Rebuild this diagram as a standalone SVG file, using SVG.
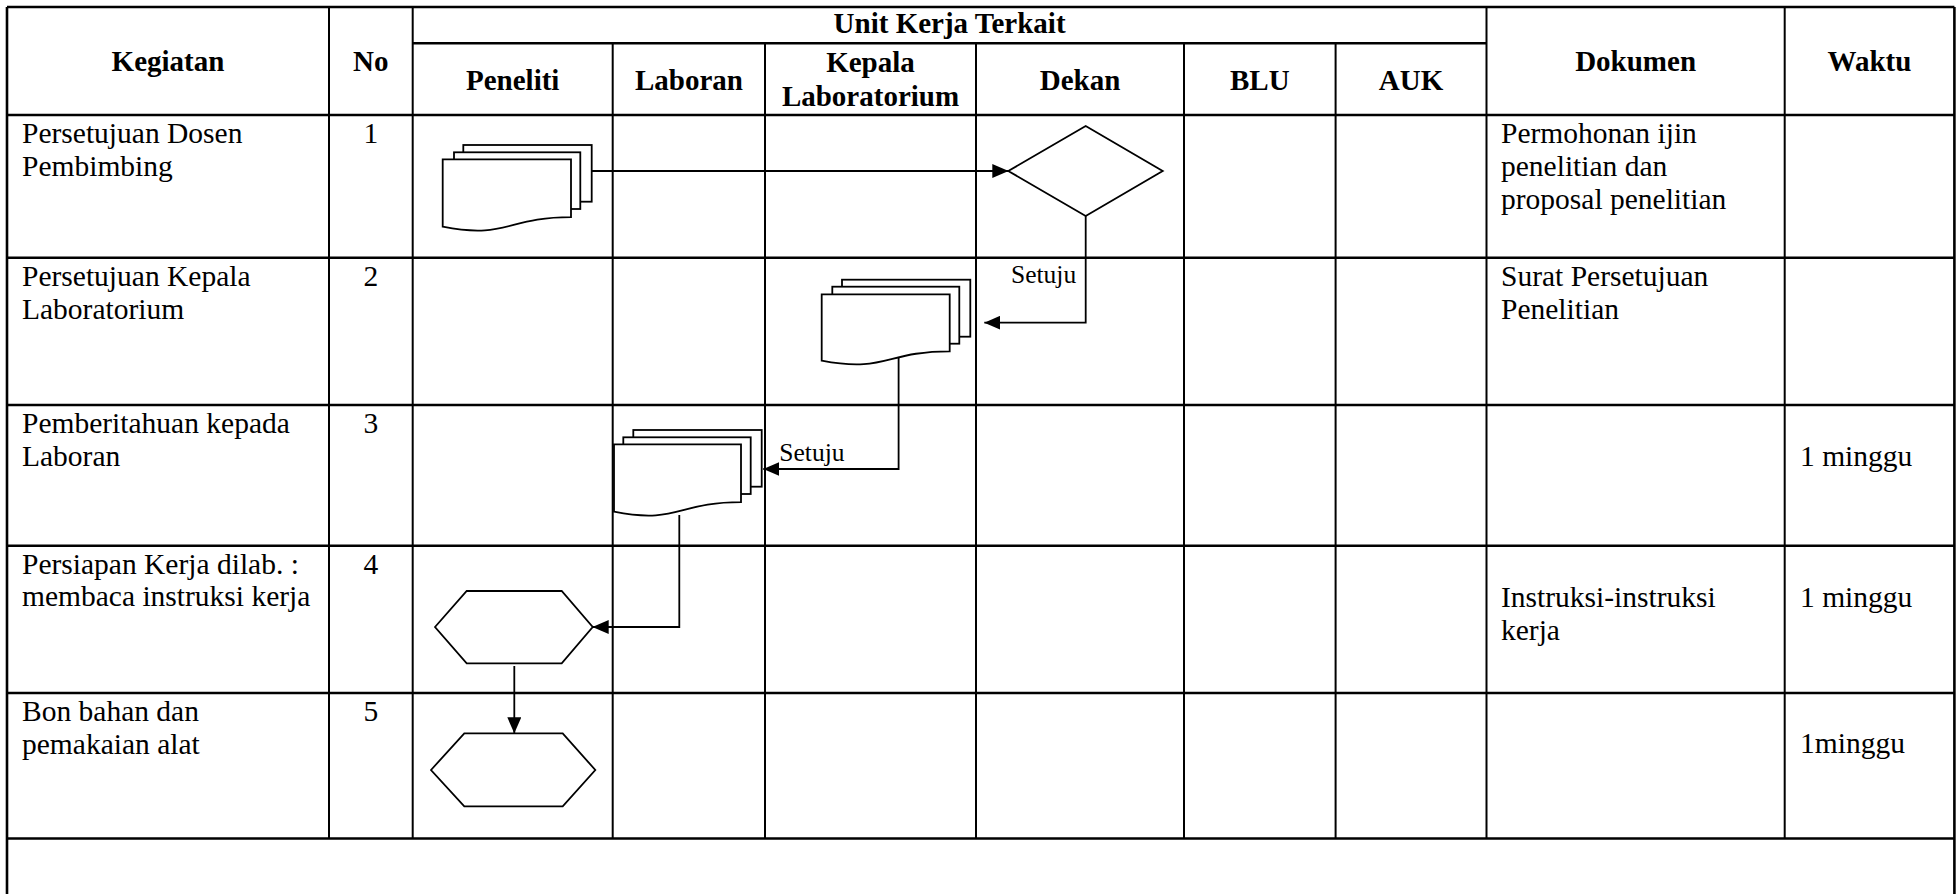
<svg xmlns="http://www.w3.org/2000/svg" width="1957" height="894" viewBox="0 0 1957 894">
  <style>
    .bg { fill: #ffffff; }
    .h { stroke: #000; stroke-width: 2.6; fill: none; }
    .v { stroke: #000; stroke-width: 2; fill: none; }
    .hd { font-family: "Liberation Serif", "Times New Roman", serif; font-size: 29px; font-weight: bold; text-anchor: middle; fill: #000; }
    .tx { font-family: "Liberation Serif", "Times New Roman", serif; font-size: 29.5px; fill: #000; }
    .num { text-anchor: middle; }
    .lbl { font-family: "Liberation Serif", "Times New Roman", serif; font-size: 25.5px; fill: #000; }
    .shape { fill: #fff; stroke: #000; stroke-width: 1.8; }
    .conn { fill: none; stroke: #000; stroke-width: 1.8; }
  </style>
  <defs>
    <marker id="arrow" viewBox="0 0 16 14" refX="16" refY="7" markerWidth="16" markerHeight="14" markerUnits="userSpaceOnUse" orient="auto">
      <path d="M0,0 L16,7 L0,14 Z" fill="#000"/>
    </marker>
  </defs>
  <rect class="bg" x="0" y="0" width="1957" height="894"/>

  <g id="table-grid">
    <line class="h" x1="7" y1="7" x2="1954.4" y2="7"/>
    <line class="h" x1="412.7" y1="43.3" x2="1486.5" y2="43.3"/>
    <line class="h" x1="7" y1="115" x2="1954.4" y2="115"/>
    <line class="h" x1="7" y1="257.7" x2="1954.4" y2="257.7"/>
    <line class="h" x1="7" y1="405" x2="1954.4" y2="405"/>
    <line class="h" x1="7" y1="545.7" x2="1954.4" y2="545.7"/>
    <line class="h" x1="7" y1="693" x2="1954.4" y2="693"/>
    <line class="h" x1="7" y1="838.5" x2="1954.4" y2="838.5"/>
    <line class="h" x1="7" y1="7" x2="7" y2="894"/>
    <line class="h" x1="1954.4" y1="7" x2="1954.4" y2="894"/>
    <line class="v" x1="329" y1="7" x2="329" y2="838.5"/>
    <line class="v" x1="412.7" y1="7" x2="412.7" y2="838.5"/>
    <line class="v" x1="1486.5" y1="7" x2="1486.5" y2="838.5"/>
    <line class="v" x1="1784.7" y1="7" x2="1784.7" y2="838.5"/>
    <line class="v" x1="612.7" y1="43.3" x2="612.7" y2="838.5"/>
    <line class="v" x1="765" y1="43.3" x2="765" y2="838.5"/>
    <line class="v" x1="976" y1="43.3" x2="976" y2="838.5"/>
    <line class="v" x1="1184" y1="43.3" x2="1184" y2="838.5"/>
    <line class="v" x1="1335.6" y1="43.3" x2="1335.6" y2="838.5"/>
  </g>

  <g id="headers">
    <text class="hd" x="168" y="71">Kegiatan</text>
    <text class="hd" x="370.8" y="71">No</text>
    <text class="hd" x="949.6" y="33">Unit Kerja Terkait</text>
    <text class="hd" x="512.7" y="90">Peneliti</text>
    <text class="hd" x="688.9" y="90">Laboran</text>
    <text class="hd" x="870.5" y="72">Kepala</text>
    <text class="hd" x="870.5" y="106">Laboratorium</text>
    <text class="hd" x="1080" y="90">Dekan</text>
    <text class="hd" x="1259.8" y="90">BLU</text>
    <text class="hd" x="1411" y="90">AUK</text>
    <text class="hd" x="1635.6" y="71">Dokumen</text>
    <text class="hd" x="1869.5" y="71">Waktu</text>
  </g>

  <g id="row1-text">
    <text class="tx" x="22" y="143">Persetujuan Dosen</text>
    <text class="tx" x="22" y="175.7">Pembimbing</text>
    <text class="tx num" x="370.8" y="143">1</text>
    <text class="tx" x="1501" y="143.3">Permohonan ijin</text>
    <text class="tx" x="1501" y="176">penelitian dan</text>
    <text class="tx" x="1501" y="208.7">proposal penelitian</text>
  </g>
  <g id="row2-text">
    <text class="tx" x="22" y="286">Persetujuan Kepala</text>
    <text class="tx" x="22" y="318.7">Laboratorium</text>
    <text class="tx num" x="370.8" y="286">2</text>
    <text class="tx" x="1501" y="286">Surat Persetujuan</text>
    <text class="tx" x="1501" y="318.7">Penelitian</text>
  </g>
  <g id="row3-text">
    <text class="tx" x="22" y="433">Pemberitahuan kepada</text>
    <text class="tx" x="22" y="465.7">Laboran</text>
    <text class="tx num" x="370.8" y="433">3</text>
    <text class="tx" x="1800" y="466">1 minggu</text>
  </g>
  <g id="row4-text">
    <text class="tx" x="22" y="573.5">Persiapan Kerja dilab. :</text>
    <text class="tx" x="22" y="606.3">membaca instruksi kerja</text>
    <text class="tx num" x="370.8" y="573.5">4</text>
    <text class="tx" x="1501" y="606.7">Instruksi-instruksi</text>
    <text class="tx" x="1501" y="640">kerja</text>
    <text class="tx" x="1800" y="606.7">1 minggu</text>
  </g>
  <g id="row5-text">
    <text class="tx" x="22" y="721">Bon bahan dan</text>
    <text class="tx" x="22" y="753.7">pemakaian alat</text>
    <text class="tx num" x="370.8" y="721">5</text>
    <text class="tx" x="1800" y="753">1minggu</text>
  </g>

  <g id="doc-peneliti">
    <rect class="shape" x="463.3" y="145" width="128.4" height="56.7"/>
    <rect class="shape" x="454" y="152.3" width="126.3" height="56.7"/>
    <path class="shape" d="M442.7,159.3 H571 V217.2 C506.9,217.2 506.9,239.3 442.7,226.7 Z"/>
  </g>

  <g id="decision-dekan">
    <path class="shape" d="M1008.3,171 L1085.7,126 L1162.7,171 L1085.7,216 Z"/>
  </g>

  <g id="doc-kepala">
    <rect class="shape" x="842" y="279.7" width="128.3" height="57"/>
    <rect class="shape" x="832.3" y="286.7" width="127" height="57"/>
    <path class="shape" d="M821.7,294.3 H949.7 V351.3 C885.7,351.3 885.7,373 821.7,360.7 Z"/>
  </g>

  <g id="doc-laboran">
    <rect class="shape" x="633.3" y="430" width="128.4" height="56.7"/>
    <rect class="shape" x="623.3" y="437.3" width="127.4" height="56.7"/>
    <path class="shape" d="M614,444.3 H741 V502.2 C677.5,502.2 677.5,524.3 614,511.7 Z"/>
  </g>

  <g id="prep-1">
    <path class="shape" d="M435,627 L466.7,591 L561.7,591 L592.7,627 L561.7,663.3 L466.7,663.3 Z"/>
  </g>

  <g id="prep-2">
    <path class="shape" d="M431,770 L464.3,733.3 L562.7,733.3 L595.3,770 L562.7,806.3 L464.3,806.3 Z"/>
  </g>

  <g id="connectors">
    <path class="conn" d="M591.7,171 H1008.3" marker-end="url(#arrow)"/>
    <path class="conn" d="M1085.7,216 V322.7 H984.3" marker-end="url(#arrow)"/>
    <path class="conn" d="M898.6,357 V469 H763.3" marker-end="url(#arrow)"/>
    <path class="conn" d="M679.3,515 V627 H592.7" marker-end="url(#arrow)"/>
    <path class="conn" d="M514.3,666 V733.3" marker-end="url(#arrow)"/>
    <text class="lbl" x="1011" y="283.3">Setuju</text>
    <text class="lbl" x="779.3" y="461">Setuju</text>
  </g>
</svg>
